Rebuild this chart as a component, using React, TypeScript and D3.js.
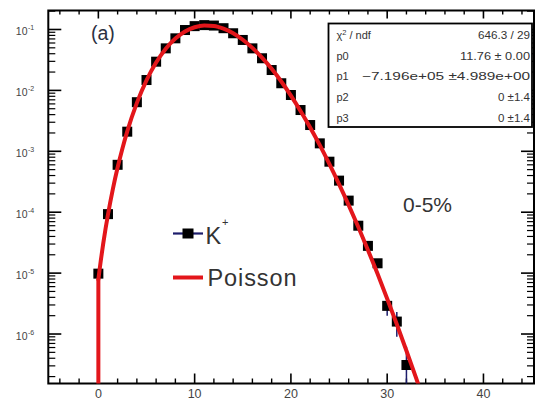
import React from "react";
import * as d3 from "d3";

// K+ multiplicity data (0-5%)
const kValues = [0,1,2,3,4,5,6,7,8,9,10,11,12,13,14,15,16,17,18,19,20,21,22,23,24,25,26,27,28,29,30,31,32];
const kProb = [9.8e-6,9.3e-5,6.0e-4,2.1e-3,6.4e-3,0.0148,0.0296,0.049,0.0716,0.098,0.1135,0.118,0.116,0.105,0.0867,0.0673,0.049,0.0337,0.0216,0.0131,0.0084,0.00476,0.0027,0.00135,6.75e-4,3.3e-4,1.55e-4,6.0e-5,2.8e-5,1.45e-5,2.9e-6,1.6e-6,3.1e-7];
const kErr = [0,0,0,0,0,0,0,0,0,0,0,0,0,0,0,0,0,0,0,0,0,0,0,0,0,0,0,0,0,2.5e-6,0.9e-6,0.7e-6,3.05e-7];

// Poisson fit curve
const fitX = [0,0.1,0.25,0.5,0.75,1,1.5,2,2.5,3,4,5,6,7,8,9,10,11,12,13,14,15,16,17,18,19,20,21,22,23,24,25,26,27,28,29,30,31,32,33,34];
const fitY = [7.82e-6,1.052e-5,1.596e-5,3.02e-5,5.4e-5,9.18e-5,2.37e-4,5.41e-4,1.114e-3,2.12e-3,6.24e-3,0.01466,0.0287,0.0483,0.071,0.0927,0.1089,0.1164,0.1143,0.1033,0.0869,0.0679,0.0499,0.0346,0.0226,0.014,0.00822,0.0046,0.00246,0.00126,6.17e-4,2.9e-4,1.31e-4,5.71e-5,2.4e-5,9.75e-6,3.8e-6,1.445e-6,5.32e-7,1.9e-7,6.6e-8];

const xTickLabels = [0, 10, 20, 30, 40];
const yTickExps = [-1, -2, -3, -4, -5, -6];

const statLabels = ["p0", "p1", "p2", "p3"];
const statValues = ["11.76 \u00b1 0.00", "\u22127.196e+05 \u00b14.989e+00", "0 \u00b11.4", "0 \u00b11.4"];
const statWidths = [70, 168, 32, 32];
const chiValue = "646.3 / 29";

const FONT = "'Liberation Sans', Arial, sans-serif";

export default function App() {
  const L = 48.3, R = 534, T = 10.5, B = 383.5;
  const x = d3.scaleLinear().domain([-5.2, 45.25]).range([L, R]);
  const y = d3.scaleLog().domain([1.54e-7, 0.205]).range([B, T]);

  const line = d3.line<number>()
    .x((_, i) => x(fitX[i]))
    .y((d) => y(d))
    .curve(d3.curveMonotoneX);
  const fitPath = line(fitY) || "";

  const minorX = d3.range(-4, 46, 2).filter((v) => v % 10 !== 0);
  const minorY: number[] = [];
  for (let e = -7; e <= -1; e++) {
    for (let m = 2; m <= 9; m++) {
      const v = m * Math.pow(10, e);
      if (v > 1.54e-7 && v < 0.205) minorY.push(v);
    }
  }

  const navy = "#1c1c6b";
  const red = "#e3161b";
  const txt = "#333";

  return (
    <svg width={536} height={400} style={{ position: "absolute", left: 0, top: 0, background: "#fff" }}>
      <defs>
        <clipPath id="plot">
          <rect x={L} y={T} width={R - L} height={B - T} />
        </clipPath>
      </defs>
      <rect x={0} y={0} width={536} height={400} fill="#fff" />

      {/* ticks bottom/top */}
      {xTickLabels.map((v) => (
        <g key={"xt" + v}>
          <line x1={x(v)} x2={x(v)} y1={B} y2={B - 10} stroke="#000" strokeWidth={1.6} />
          <line x1={x(v)} x2={x(v)} y1={T} y2={T + 8} stroke="#000" strokeWidth={1.6} />
          <text x={x(v)} y={397.5} textAnchor="middle" fontFamily={FONT} fontSize={12.5} fill="#444">{v}</text>
        </g>
      ))}
      {minorX.map((v) => (
        <g key={"xm" + v}>
          <line x1={x(v)} x2={x(v)} y1={B} y2={B - 5} stroke="#000" strokeWidth={1.4} />
          <line x1={x(v)} x2={x(v)} y1={T} y2={T + 4} stroke="#000" strokeWidth={1.4} />
        </g>
      ))}
      {/* ticks left/right */}
      {yTickExps.map((e) => {
        const yy = y(Math.pow(10, e));
        return (
          <g key={"yt" + e}>
            <line x1={L} x2={L + 13} y1={yy} y2={yy} stroke="#000" strokeWidth={1.6} />
            <line x1={R} x2={R - 13} y1={yy} y2={yy} stroke="#000" strokeWidth={1.6} />
            <text x={27.5} y={yy + 6} textAnchor="end" fontFamily={FONT} fontSize={10.5} fill="#444">10</text>
            <text x={28} y={yy + 0.5} textAnchor="start" fontFamily={FONT} fontSize={7} fill="#444">{String(e)}</text>
          </g>
        );
      })}
      {minorY.map((v, i) => (
        <g key={"ym" + i}>
          <line x1={L} x2={L + 7} y1={y(v)} y2={y(v)} stroke="#000" strokeWidth={1.2} />
          <line x1={R} x2={R - 7} y1={y(v)} y2={y(v)} stroke="#000" strokeWidth={1.2} />
        </g>
      ))}

      {/* frame */}
      <rect x={L} y={T} width={R - L} height={B - T} fill="none" stroke="#000" strokeWidth={2} />

      <g clipPath="url(#plot)">
        {/* error bars */}
        {kValues.map((k, i) =>
          kErr[i] > 0 ? (
            <line key={"e" + k} x1={x(k)} x2={x(k)}
              y1={y(kProb[i] + kErr[i])} y2={y(Math.max(kProb[i] - kErr[i], 1e-9))}
              stroke={navy} strokeWidth={1.5} />
          ) : null
        )}
        {/* markers */}
        {kValues.map((k, i) => (
          <rect key={"m" + k} x={x(k) - 5} y={y(kProb[i]) - 5} width={10} height={10} fill="#000" />
        ))}
        {/* fit */}
        <line x1={x(fitX[0])} x2={x(fitX[0])} y1={y(fitY[0])} y2={B + 5} stroke={red} strokeWidth={4} strokeLinecap="round" />
        <path d={fitPath} fill="none" stroke={red} strokeWidth={4} strokeLinejoin="round" strokeLinecap="round" />
      </g>

      {/* (a) */}
      <text x={91} y={39.5} fontFamily={FONT} fontSize={19.5} fill="#2b3142">(a)</text>

      {/* 0-5% */}
      <text x={403} y={212} fontFamily={FONT} fontSize={21} fill={txt}>0-5%</text>

      {/* legend */}
      <line x1={173} x2={203} y1={233.5} y2={233.5} stroke={navy} strokeWidth={2.2} />
      <rect x={182.5} y={228.5} width={11} height={10} fill="#000" />
      <text x={205.5} y={244} fontFamily={FONT} fontSize={23.5} fill={txt}>K</text>
      <text x={222} y={225.5} fontFamily={FONT} fontSize={11} fill={txt}>+</text>
      <line x1={173} x2={203} y1={277.5} y2={277.5} stroke={red} strokeWidth={4} />
      <text x={207.5} y={285.5} fontFamily={FONT} fontSize={23.5} fill={txt} textLength={89} lengthAdjust="spacing">Poisson</text>

      {/* stats box */}
      <rect x={328.5} y={23.5} width={203.5} height={103.5} fill="#fff" stroke="#000" strokeWidth={1.8} />
      <text x={336.5} y={38.5} fontFamily={FONT} fontSize={11} fill={txt}>
        {"\u03c7"}
        <tspan dy={-4} fontSize={7.5}>2</tspan>
        <tspan dy={4}> / ndf</tspan>
      </text>
      <text x={530} y={38.5} textAnchor="end" fontFamily={FONT} fontSize={11} fill={txt} textLength={52} lengthAdjust="spacingAndGlyphs">{chiValue}</text>
      {statLabels.map((s, i) => (
        <g key={s}>
          <text x={336.5} y={59.5 + i * 20.8} fontFamily={FONT} fontSize={11} fill={txt}>{s}</text>
          <text x={530} y={59.5 + i * 20.8} textAnchor="end" fontFamily={FONT} fontSize={11} fill={txt} textLength={statWidths[i]} lengthAdjust="spacingAndGlyphs">{statValues[i]}</text>
        </g>
      ))}
    </svg>
  );
}
